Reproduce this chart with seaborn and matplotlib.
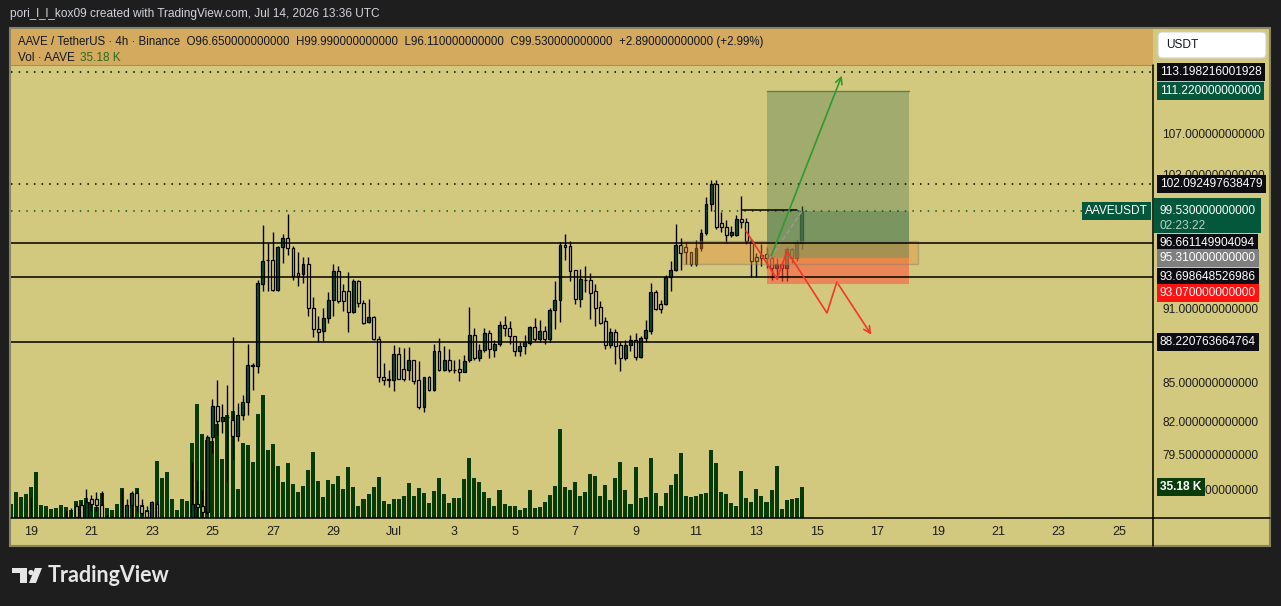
import numpy as np
import pandas as pd
import matplotlib
matplotlib.use('Agg')
import matplotlib.pyplot as plt
import matplotlib.dates as mdates
import matplotlib.transforms as mtrans
from matplotlib.patches import Rectangle, Polygon, Circle, FancyBboxPatch
from matplotlib.ticker import NullLocator
import seaborn as sns

sns.set_theme(style='white')
plt.rcParams['font.family'] = ['Liberation Sans', 'DejaVu Sans']

# --- DATA (AAVE/USDT 4h) ---
START = '2026-06-18 08:00'
opens = [74.3, 74.5, 74.2, 74.4, 74.6, 74.8, 74.4, 74.3, 74.5, 74.4,
         74.6, 74.7, 74.9, 75.8, 75.9, 74.9, 76.3, 76.3, 75.9, 74.9,
         74.6, 74.7, 74.8, 74.9, 75.9, 76.75, 75.8, 75.5, 75.05, 76.0,
         74.9, 74.6, 74.3, 74.5, 74.4, 74.7, 74.9, 75.95, 75.8, 75.4,
         80.8, 83.15, 82.0, 82.3, 82.1, 80.9, 82.45, 83.5, 86.35, 86.3,
         93.1, 95.2, 95.2, 92.6, 96.3, 97.1, 96.2, 94.0, 93.9, 94.8,
         91.0, 89.3, 89.1, 90.2, 91.7, 94.2, 92.5, 92.5, 90.7, 93.3,
         91.5, 89.9, 90.3, 88.45, 85.4, 85.2, 85.2, 87.25, 86.05, 85.95,
         86.75, 85.2, 83.1, 85.4, 84.4, 87.5, 86.0, 86.8, 86.0, 86.05,
         85.8, 86.8, 88.8, 86.9, 87.6, 89.0, 87.6, 88.05, 89.6, 89.4,
         88.7, 87.5, 87.9, 88.15, 89.45, 88.45, 89.1, 88.45, 90.9, 91.7,
         96.5, 96.4, 94.3, 91.8, 93.45, 93.4, 92.5, 91.1, 89.95, 87.95,
         89.05, 87.95, 86.95, 87.95, 88.4, 87.05, 88.55, 89.1, 92.4, 91.4,
         91.4, 93.65, 94.3, 96.5, 96.3, 95.85, 94.8, 96.2, 97.6, 100.2,
         102.1, 98.5, 98.1, 97.4, 97.4, 98.85, 98.55, 96.85, 95.4, 95.6,
         95.7, 95.35, 94.45, 94.8, 94.45, 96.1, 95.3, 96.65]
highs = [74.7, 74.8, 74.6, 74.9, 76.45, 74.95, 74.7, 74.6, 74.8, 74.7,
         74.9, 75.55, 75.7, 76.0, 76.1, 77.05, 76.6, 76.8, 76.9, 75.2,
         75.1, 74.95, 77.0, 76.3, 76.9, 77.0, 76.3, 75.8, 76.2, 76.2,
         74.95, 74.9, 74.7, 74.8, 74.9, 74.95, 79.0, 77.66, 76.95, 80.95,
         83.7, 85.2, 83.3, 84.8, 88.65, 83.4, 84.0, 88.06, 86.5, 93.4,
         98.3, 96.7, 97.65, 96.4, 97.5, 99.3, 96.4, 95.9, 95.4, 95.4,
         92.0, 90.4, 91.0, 92.4, 94.8, 94.6, 93.1, 94.1, 93.5, 93.4,
         91.7, 91.8, 90.4, 88.7, 86.5, 85.97, 87.95, 87.8, 87.7, 87.8,
         86.8, 86.7, 85.45, 85.5, 88.05, 88.55, 87.9, 87.65, 86.8, 86.85,
         87.2, 91.1, 89.35, 88.1, 89.4, 89.2, 88.4, 89.95, 90.4, 89.95,
         88.75, 88.2, 88.8, 89.5, 90.2, 90.0, 89.55, 91.0, 93.35, 96.8,
         97.5, 96.85, 94.3, 94.4, 94.6, 94.0, 93.1, 91.6, 90.3, 89.4,
         89.3, 88.3, 88.4, 88.8, 89.0, 88.7, 90.0, 93.2, 92.55, 91.7,
         93.85, 95.1, 98.4, 97.1, 96.7, 95.9, 96.9, 97.9, 100.9, 102.5,
         102.5, 99.5, 98.7, 98.2, 99.2, 101.0, 98.9, 97.0, 95.75, 96.6,
         96.3, 95.5, 95.35, 95.0, 96.3, 96.2, 96.9, 99.99]
lows = [74.0, 74.1, 73.9, 74.2, 74.3, 74.2, 74.0, 74.0, 74.2, 74.1,
        74.3, 74.5, 74.6, 74.8, 74.8, 74.8, 75.5, 75.5, 74.7, 74.3,
        74.3, 74.4, 74.5, 74.7, 74.95, 75.5, 75.2, 74.9, 74.9, 74.6,
        74.3, 74.0, 73.9, 74.2, 74.1, 74.4, 74.5, 74.9, 74.9, 75.3,
        79.6, 81.0, 81.1, 77.5, 79.2, 80.5, 82.1, 82.45, 84.4, 85.7,
        92.5, 92.5, 92.5, 92.5, 94.9, 95.6, 93.4, 92.9, 93.2, 90.4,
        88.6, 88.2, 88.3, 89.8, 90.4, 91.5, 90.8, 89.05, 90.6, 91.1,
        89.7, 89.8, 88.4, 85.0, 84.8, 84.6, 84.3, 85.3, 85.1, 85.2,
        84.9, 82.95, 82.7, 84.3, 84.3, 85.9, 85.9, 85.8, 85.75, 85.1,
        85.8, 86.6, 86.8, 86.7, 87.4, 86.9, 87.0, 87.9, 88.7, 88.05,
        87.1, 87.1, 87.25, 88.0, 88.3, 88.2, 88.05, 88.2, 89.3, 89.85,
        95.15, 93.3, 91.4, 91.1, 92.4, 90.1, 89.5, 89.7, 87.65, 87.7,
        86.45, 85.9, 86.8, 87.5, 86.8, 86.9, 88.2, 88.9, 90.85, 90.6,
        91.3, 92.5, 94.2, 94.3, 94.8, 94.6, 94.6, 96.0, 97.4, 99.6,
        97.9, 97.7, 96.7, 97.2, 97.3, 98.0, 96.6, 93.7, 93.7, 94.6,
        94.5, 93.4, 93.5, 93.3, 93.3, 94.9, 95.1, 96.11]
closes = [74.5, 74.2, 74.4, 74.6, 74.8, 74.4, 74.3, 74.5, 74.4, 74.6,
          74.7, 74.9, 74.95, 75.05, 75.0, 76.1, 75.95, 75.9, 74.95, 74.6,
          74.7, 74.8, 74.9, 75.9, 76.75, 75.8, 75.35, 75.05, 76.1, 74.9,
          74.6, 74.3, 74.5, 74.4, 74.7, 74.9, 75.95, 75.75, 75.4, 80.8,
          83.15, 82.0, 82.3, 82.35, 80.9, 82.45, 83.5, 86.35, 86.3, 93.15,
          95.1, 95.2, 92.6, 96.3, 97.1, 96.2, 93.8, 93.8, 94.8, 91.0,
          89.3, 89.05, 90.2, 91.7, 94.2, 91.6, 91.6, 90.7, 93.3, 91.5,
          89.8, 90.3, 88.45, 85.4, 85.2, 85.25, 87.25, 85.25, 85.25, 86.75,
          85.1, 83.1, 85.4, 84.4, 87.5, 86.0, 86.8, 86.0, 85.95, 85.8,
          86.7, 88.8, 86.9, 87.6, 89.0, 87.65, 88.05, 89.6, 89.4, 88.7,
          87.5, 87.9, 88.2, 89.45, 88.45, 89.1, 88.45, 90.9, 91.7, 96.5,
          96.35, 94.2, 91.8, 93.5, 93.4, 92.35, 91.05, 89.8, 87.95, 89.05,
          87.9, 86.95, 87.95, 88.4, 87.05, 88.55, 89.2, 92.4, 90.95, 90.95,
          93.7, 94.3, 96.5, 95.8, 95.85, 94.8, 96.2, 97.6, 100.2, 102.1,
          98.1, 98.1, 97.4, 97.7, 98.85, 98.55, 96.85, 95.1, 95.1, 95.35,
          95.35, 94.45, 94.8, 94.45, 96.1, 95.3, 96.65, 99.53]
volume_k = [15.5, 29.2, 23.5, 26.9, 34.8, 51.9, 14.4, 13.3, 9.9, 11.0,
            14.4, 12.1, 8.7, 19.0, 20.1, 22.4, 18.2, 12.1, 28.0, 11.0,
            8.7, 15.5, 33.7, 14.4, 28.0, 33.7, 14.4, 8.7, 16.7, 64.4,
            45.1, 51.9, 21.2, 8.7, 21.2, 19.0, 84.8, 129.0, 95.0, 88.2,
            87.4, 106.3, 66.6, 116.6, 121.1, 32.6, 84.8, 82.5, 63.2, 117.7,
            139.3, 76.8, 83.6, 58.7, 40.5, 62.1, 38.2, 29.2, 36.0, 54.1,
            74.6, 41.7, 23.5, 42.8, 38.2, 47.3, 32.6, 57.5, 34.8, 13.3,
            21.2, 26.9, 34.8, 46.2, 19.0, 15.5, 21.6, 21.6, 25.0, 39.7,
            25.0, 34.1, 28.4, 17.0, 30.6, 45.4, 27.2, 17.0, 22.7, 22.7,
            44.3, 68.1, 45.4, 40.9, 29.5, 22.7, 13.6, 31.8, 15.9, 13.6,
            13.6, 9.1, 11.4, 31.8, 11.4, 12.5, 18.2, 26.1, 36.3, 101.0,
            35.2, 31.8, 40.9, 25.0, 29.5, 49.9, 47.7, 25.0, 37.5, 20.4,
            45.4, 63.6, 31.8, 15.9, 57.9, 22.7, 23.8, 68.1, 28.4, 13.6,
            28.4, 37.5, 49.9, 73.8, 25.0, 23.8, 25.0, 27.2, 28.4, 77.2,
            62.4, 29.5, 27.2, 17.0, 13.6, 53.3, 22.7, 18.2, 32.9, 25.0,
            18.2, 31.8, 59.0, 10.2, 20.4, 21.6, 22.7, 35.18]

# horizontal levels drawn on the chart
solid_levels = [96.661149904094, 93.698648526986, 88.220763664764]
dotted_levels = [113.198216001928, 102.092497638479]
last_price = 99.53
# long position tool
entry, target, stop = 95.31, 111.22, 93.07
pos_start, pos_end = '2026-07-13 08:30', '2026-07-18 01:00'
zone_low, zone_high = 94.8, 96.85
zone_start, zone_end = '2026-07-10 12:45', '2026-07-18 08:10'
green_path_t = ['2026-07-13 11:00', '2026-07-15 20:40']
green_path_p = [95.31, 113.1]
red_path_t = ['2026-07-12 15:40', '2026-07-13 16:20', '2026-07-14 00:15',
              '2026-07-15 08:00', '2026-07-15 15:50', '2026-07-16 20:25']
red_path_p = [97.75, 93.51, 95.96, 90.62, 93.25, 88.63]
seg_t = ['2026-07-12 12:30', '2026-07-14 08:10']
seg_p = 99.62

ytick_vals = [77, 79.5, 82, 85, 91, 103, 107]
date_ticks = pd.date_range('2026-06-19', '2026-07-25', freq='2D')

# --- COLOURS ---
BG = '#1e1e1e'
PANE = '#d3c97e'
HEAD = '#d4aa5e'
UP = '#0d4d31'
VOL = '#063b08'
DARKBOX = '#0c0c12'
GREENBOX = '#04573b'

W, H = 1281, 606
fig = plt.figure(figsize=(W / 100, H / 100), dpi=100, facecolor=BG)
PX = mtrans.Affine2D().scale(1 / W, -1 / H).translate(0, 1) + fig.transFigure

# frame, header band
fig.add_artist(Rectangle((10, 28), 1260, 518, transform=PX, facecolor=PANE,
                         edgecolor='#8a8462', lw=1.5, zorder=-5))
fig.add_artist(Rectangle((11, 29), 1142, 36, transform=PX, facecolor=HEAD,
                         edgecolor='none', zorder=-4))
fig.add_artist(plt.Line2D([11, 1153], [65, 65], transform=PX, color='#a89050', lw=0.8, zorder=-3))

rect = [11 / W, 1 - 518 / H, 1142 / W, 453 / H]
vax = fig.add_axes(rect, zorder=0)
ax = fig.add_axes(rect, zorder=1)
for a in (vax, ax):
    a.patch.set_alpha(0)
    for s in a.spines.values():
        s.set_visible(False)

times = pd.date_range(START, periods=len(opens), freq='4h')
xs = mdates.date2num(times)
x0 = mdates.date2num(pd.Timestamp('2026-06-19'))
xlim = (x0 - 0.662, x0 + 37.12)

# volume
sns.barplot(x=xs, y=volume_k, native_scale=True, orient='x', width=0.8, color=VOL,
            saturation=1, linewidth=0, errorbar=None, ax=vax)
vax.set_xlim(xlim)
vax.set_ylim(0, 514)
vax.set_xticks([]); vax.set_yticks([])
vax.set_xlabel(''); vax.set_ylabel('')

# candles
o = np.array(opens); c = np.array(closes); hi = np.array(highs); lo = np.array(lows)
up = c >= o
ax.set_yscale('log')
ax.vlines(xs, lo, hi, color='black', lw=1.0, zorder=2)
ax.bar(xs[up], c[up] - o[up], bottom=o[up], width=0.095, color=UP,
       edgecolor='black', lw=0.9, zorder=3)
ax.bar(xs[~up], o[~up] - c[~up], bottom=c[~up], width=0.095, color=PANE,
       edgecolor='black', lw=0.9, zorder=3)

# long position tool
def tn(s):
    return mdates.date2num(pd.Timestamp(s))

ps, pe = tn(pos_start), tn(pos_end)
ax.add_patch(Rectangle((ps, entry), pe - ps, target - entry, facecolor='#568056',
                       alpha=0.4, edgecolor='none', zorder=5))
ax.add_patch(Rectangle((ps, entry), pe - ps, last_price - entry, facecolor='#568056',
                       alpha=0.5, edgecolor='none', zorder=5))
ax.add_patch(Rectangle((ps, stop), pe - ps, entry - stop, facecolor='#ff503c',
                       alpha=0.55, edgecolor='none', zorder=5))
ax.plot([ps, pe], [target, target], color='#5f7f4f', lw=1, zorder=5)
zs, ze = tn(zone_start), tn(zone_end)
ax.add_patch(Rectangle((zs, zone_low), ze - zs, zone_high - zone_low, facecolor='#e68c3c',
                       alpha=0.4, edgecolor='#7a7a6a', lw=1, zorder=6))
ax.plot([ps + 0.1, xs[-1]], [entry, last_price], color='#9a9a9a', lw=1, ls='--', zorder=6)

# levels
for lv in solid_levels:
    ax.axhline(lv, color='black', lw=1.1, zorder=7)
for lv in dotted_levels:
    ax.axhline(lv, color='black', lw=1.1, ls=(0, (1, 4)), zorder=7)
ax.axhline(last_price, color=GREENBOX, lw=1.1, ls=(0, (1, 4)), zorder=7)
ax.plot([tn(seg_t[0]), tn(seg_t[1])], [seg_p, seg_p], color='black', lw=1.1, zorder=7)

# drawn arrows
gt = [tn(t) for t in green_path_t]
ax.annotate('', xy=(gt[1], green_path_p[1]), xytext=(gt[0], green_path_p[0]),
            arrowprops=dict(arrowstyle='->', color='#2f9a2f', lw=1.2, mutation_scale=12), zorder=8)
rt = [tn(t) for t in red_path_t]
ax.plot(rt[:-1], red_path_p[:-1], color='#f2362b', lw=1.2, zorder=8)
ax.annotate('', xy=(rt[-1], red_path_p[-1]), xytext=(rt[-2], red_path_p[-2]),
            arrowprops=dict(arrowstyle='->', color='#f2362b', lw=1.2, mutation_scale=12), zorder=8)

ax.set_xlim(xlim)
ax.set_ylim(74.99, 113.94)

# axes ticks
ax.set_xticks(mdates.date2num(date_ticks))
ax.set_xticklabels(['Jul' if d.day == 1 else str(d.day) for d in date_ticks])
ax.yaxis.tick_right()
ax.set_yticks(ytick_vals)
ax.set_yticklabels([f'{v:.12f}' for v in ytick_vals])
ax.yaxis.set_minor_locator(NullLocator())
ax.tick_params(axis='x', length=0, pad=5.5, labelsize=9, labelcolor='#1c1c1c')
ax.tick_params(axis='y', length=0, pad=6.5, labelsize=8.6, labelcolor='#1c1c1c')
ax.grid(False); vax.grid(False)

# frame lines
fig.add_artist(plt.Line2D([11, 1270], [518, 518], transform=PX, color='black', lw=1.1, zorder=5))
fig.add_artist(plt.Line2D([1153, 1153], [65, 546], transform=PX, color='black', lw=1.1, zorder=5))

# price labels
BY = mtrans.blended_transform_factory(PX, ax.transData)
def plabel(price, text, bg, fg='white', ypos=None):
    ax.text(1160, price if ypos is None else ypos, text, transform=BY, ha='left', va='center',
            fontsize=8.6, color=fg, clip_on=False, zorder=20,
            bbox=dict(boxstyle='square,pad=0.25', facecolor=bg, edgecolor='none'))

plabel(113.198216001928, '113.198216001928', DARKBOX)
plabel(111.22, '111.220000000000', GREENBOX)
plabel(102.092497638479, '102.092497638479', DARKBOX)
ax.add_patch(Rectangle((1154, 97.6), 107, 100.78 - 97.6, transform=BY, facecolor=GREENBOX,
                       edgecolor='none', clip_on=False, zorder=19))
ax.text(1160, 99.53, '99.530000000000', transform=BY, ha='left', va='center', fontsize=8.6,
        color='white', clip_on=False, zorder=20)
ax.text(1160, 98.2, '02:23:22', transform=BY, ha='left', va='center', fontsize=8.6,
        color='#b8d4c4', clip_on=False, zorder=20)
plabel(96.661149904094, '96.661149904094', DARKBOX)
plabel(95.31, '95.310000000000', '#7f7f7f')
plabel(93.698648526986, '93.698648526986', DARKBOX)
plabel(93.07, '93.070000000000', '#ff1212', ypos=92.31)
plabel(88.220763664764, '88.220763664764', DARKBOX)
ax.text(1148, 99.53, 'AAVEUSDT', transform=BY, ha='right', va='center', fontsize=8.6,
        color='white', clip_on=False, zorder=20,
        bbox=dict(boxstyle='square,pad=0.25', facecolor=GREENBOX, edgecolor='none'))
VY = mtrans.blended_transform_factory(PX, vax.transData)
ax.text(1160, volume_k[-1], '35.18 K', transform=VY, ha='left', va='center', fontsize=8.6,
        color='white', fontweight='bold', clip_on=False, zorder=20,
        bbox=dict(boxstyle='square,pad=0.28', facecolor='#0a3c0b', edgecolor='none'))

# USDT box
fig.add_artist(FancyBboxPatch((1158, 32), 108, 26, boxstyle='round,pad=0,rounding_size=4',
                              transform=PX, facecolor='white', edgecolor='#d0d0d0', lw=0.8, zorder=6))
fig.text(1166, 45, 'USDT', transform=PX, ha='left', va='center', fontsize=8.6, color='#131722', zorder=7)

# header texts
fig.text(10, 14, 'pori_l_l_kox09 created with TradingView.com, Jul 14, 2026 13:36 UTC',
         transform=PX, ha='left', va='center', fontsize=8.6, color='#d1d4dc')
fig.text(18, 42, 'AAVE / TetherUS \u00b7 4h \u00b7 Binance  O96.650000000000  H99.990000000000  '
         'L96.110000000000  C99.530000000000  +2.890000000000 (+2.99%)',
         transform=PX, ha='left', va='center', fontsize=8.3, color='#131722')
fig.text(18, 58, 'Vol \u00b7 AAVE', transform=PX, ha='left', va='center', fontsize=8.5, color='#131722')
fig.text(80, 58, '35.18 K', transform=PX, ha='left', va='center', fontsize=8.5, color='#2a6a22')

# TradingView logo
fig.add_artist(Polygon([(12, 568), (27, 568), (27, 583), (20, 583), (20, 573), (12, 573)],
                       closed=True, transform=PX, facecolor='#e6e6e6', edgecolor='none'))
fig.add_artist(Circle((31, 572.5), 2.6, transform=PX, facecolor='#e6e6e6', edgecolor='none'))
fig.add_artist(Polygon([(35, 568), (42, 568), (36, 583), (29, 583)], closed=True,
                       transform=PX, facecolor='#e6e6e6', edgecolor='none'))
fig.text(48, 576, 'TradingView', transform=PX, ha='left', va='center', fontsize=15.5,
         fontweight='bold', color='#e6e6e6', family=['Lato', 'DejaVu Sans'])

fig.savefig('out.png', dpi=100, facecolor=BG)
